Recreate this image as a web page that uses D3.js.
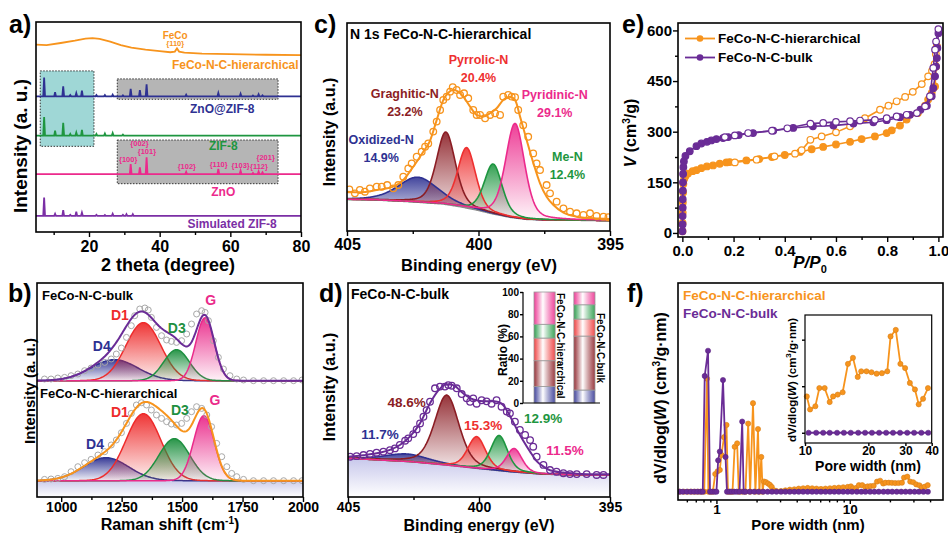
<!DOCTYPE html>
<html>
<head>
<meta charset="utf-8">
<script src="https://cdn.jsdelivr.net/npm/d3@7"></script>
<style>
  body { margin: 0; background: #fff; }
  text { font-family: Arial, "Liberation Sans", Helvetica, sans-serif; font-weight: bold; }
</style>
</head>
<body>
<svg id="fig" width="948" height="533"></svg>
<script>
// ---------- a) XRD ----------
const xrdNames = ['FeCo-N-C-hierarchical', 'ZnO@ZIF-8', 'ZIF-8', 'ZnO', 'Simulated ZIF-8']
const xrdBase = [0, 64.6, 45.9, 27.6, 7.7]
const fecoPattern = [[5,89.2],[8,89.0],[12,90.0],[16,91.1],[19,92.1],[21,92.3],[23,92.0],[26,90.7],[29,89.0],[32,87.8],[36,86.8],[40,86.1],[43,85.6],[44.3,85.9],[44.9,87.4],[45.5,85.9],[47,85.4],[52,84.9],[60,84.7],[70,84.4],[80,84.2]]
const znoZifPeaks = [[7.3,8.9],[10.4,2.0],[12.7,4.8],[14.7,0.6],[16.4,1.5],[18.0,2.7],[22.1,0.6],[24.5,0.6],[26.7,0.8],[29.6,0.5],[31.8,3.6],[34.4,2.9],[36.3,5.7],[47.5,0.8],[56.6,1.6],[62.9,1.2],[66.4,0.4],[68.0,1.0],[69.1,0.5]]
const zifPeaks = [[7.3,8.9],[10.4,2.4],[12.7,6.1],[14.7,0.8],[16.4,1.5],[18.0,2.7],[22.1,0.8],[24.5,1.0],[26.7,1.2],[29.6,0.5]]
const znoPeaks = [[31.8,4.8],[34.4,3.2],[36.3,8.0],[47.5,1.0],[56.6,2.4],[62.9,1.6],[66.4,0.5],[68.0,1.2],[69.1,0.8]]
const simPeaks = [[7.3,8.7],[10.4,1.0],[12.7,2.7],[14.7,0.5],[16.4,2.0],[18.0,1.5],[22.1,0.5],[24.5,0.4],[26.7,1.0],[29.6,0.5],[30.6,0.8],[32.4,0.8]]
const xrdLabelPos = [[61.4,79.4],[57.7,58.7],[58.0,41.1],[58.0,19.3],[60.5,4.0]]
const znoHkl = ['{100}','{002}','{101}','{102}','{110}','{103}','{112}','{201}']
const znoHklPos = [[31.1,34.8],[34.3,42.0],[36.4,38.3],[47.7,31.2],[56.7,32.4],[62.9,31.9],[68.1,31.2],[70.0,35.5]]
const xrdBoxX = [[6.2,21.4],[28,73.5],[28,73.5]]
const xrdBoxU = [[40.8,76.7],[63.2,72.9],[23,43.8]]

// ---------- b) Raman ----------
const ramanNames = ['FeCo-N-C-bulk', 'FeCo-N-C-hierarchical']
const ramanOffset = [1.0, 0]
const bandNames = ['D4', 'D1', 'D3', 'G']
const bandCenter = [[1220,1340,1477,1595],[1185,1340,1468,1590]]
const bandHeight = [[0.21,0.58,0.31,0.63],[0.23,0.67,0.42,0.65]]
const bandFwhm = [[230,170,125,90],[220,170,150,100]]
const bandLabelPos = [[[1168,1.35],[1243,1.66],[1478,1.53],[1618,1.81]],[[1140,0.37],[1243,0.69],[1491,0.71],[1636,0.81]]]
const shiftBulk = [931,958,986,1014,1041,1069,1097,1124,1152,1180,1207,1228,1249,1270,1290,1304,1325,1346,1360,1373,1394,1415,1436,1456,1477,1498,1519,1539,1560,1581,1595,1609,1629,1650,1671,1698,1726,1754,1795,1837,1878,1920,1961,1996]
const ramanBulk = [.017,.017,.027,.033,.05,.067,.1,.127,.157,.183,.217,.267,.327,.433,.55,.65,.717,.727,.707,.633,.533,.45,.407,.393,.383,.4,.467,.567,.667,.7,.683,.6,.4,.233,.117,.05,.017,.007,0,0,0,0,0,.007]
const shiftHier = [931,958,986,1014,1041,1069,1097,1124,1152,1180,1207,1228,1249,1270,1290,1311,1332,1353,1373,1394,1415,1436,1456,1477,1498,1519,1539,1560,1581,1602,1622,1643,1664,1685,1705,1726,1754,1795,1837,1878,1920,1961,1996]
const ramanHier = [.013,.017,.023,.04,.09,.14,.18,.213,.257,.29,.357,.407,.48,.573,.673,.757,.78,.757,.707,.657,.623,.59,.567,.557,.573,.623,.69,.74,.723,.657,.54,.373,.24,.14,.073,.04,.013,0,0,0,0,0,0]

// ---------- c), d) N 1s XPS ----------
const nSpecies = ['Oxidized-N', 'Graghitic-N', 'Pyrrolic-N', 'Me-N', 'Pyridinic-N']
const hierCenter = [402.3, 401.24, 400.45, 399.44, 398.61]
const hierAmp = [12, 34.8, 29, 24, 45.4]
const hierFwhm = [1.8, 0.85, 0.8, 0.8, 0.85]
const hierPct = [14.9, 23.2, 20.4, 12.4, 29.1]
const bulkCenter = [402.76, 401.23, 400.09, 399.23, 398.66]
const bulkAmp = [3.5, 32.7, 14.8, 16.4, 11]
const bulkFwhm = [2.0, 1.1, 0.8, 0.75, 0.7]
const bulkPct = [11.7, 48.6, 15.3, 12.9, 11.5]
const hierBg = [[405,15.2],[403.87,14.9],[402.6,14.1],[401.34,13.0],[400.7,11.7],[400.07,10.1],[399.44,8.2],[398.8,6.6],[398.17,5.6],[397.53,5.3],[395,5.0]]
const hierFit = [[405,18.9],[404.51,18.6],[403.87,19.7],[403.24,21.3],[402.86,24.5],[402.48,30.9],[402.1,38.1],[401.84,43.5],[401.59,53.3],[401.34,62.9],[401.15,66.5],[400.96,67.8],[400.77,67.0],[400.58,64.6],[400.32,59.8],[400.07,55.8],[399.82,55.0],[399.56,56.6],[399.31,59.0],[399.06,63.0],[398.8,64.6],[398.61,63.0],[398.42,55.0],[398.17,43.8],[397.91,32.5],[397.66,22.9],[397.41,16.5],[397.15,12.5],[396.77,8.8],[396.27,6.9],[395.63,6.1],[395.0,5.8]]
const hierDots = [[404.91,20.0],[404.70,18.1],[404.51,19.7],[404.32,18.9],[404.13,20.5],[403.87,21.3],[403.68,21.3],[403.47,22.1],[403.24,20.5],[403.05,22.1],[402.86,26.1],[402.67,30.1],[402.54,32.5],[402.35,35.7],[402.16,38.1],[402.03,40.5],[401.91,42.1],[401.72,47.8],[401.59,52.6],[401.46,58.2],[401.34,63.0],[401.21,64.6],[401.08,67.0],[400.98,69.1],[400.83,67.8],[400.70,65.4],[400.55,66.2],[400.39,63.8],[400.20,58.2],[400.07,55.8],[399.94,55.8],[399.75,54.2],[399.56,55.8],[399.37,56.6],[399.18,55.8],[399.06,64.6],[398.87,65.4],[398.74,64.6],[398.61,64.3],[398.49,58.2],[398.30,50.9],[398.11,45.3],[397.92,37.3],[397.79,32.5],[397.66,29.3],[397.41,22.1],[397.28,18.1],[397.03,14.1],[396.77,10.9],[396.52,9.3],[396.27,8.5],[396.01,7.7],[395.76,8.5],[395.51,7.2],[395.25,6.9],[395.06,6.6]]
const bulkBg = [[405,18.1],[402.6,16.5],[401.3,15.0],[400.1,13.4],[398.8,11.8],[397.6,10.7],[396.3,10.3],[395,10.3]]
const bulkFit = [[405,18.8],[404.41,19.5],[403.91,20.4],[403.4,22.0],[403.02,24.3],[402.63,28.3],[402.25,34.5],[401.87,43.8],[401.55,49.8],[401.3,52.5],[401.11,52.6],[400.92,51.9],[400.73,49.8],[400.47,47.2],[400.22,45.6],[399.96,44.9],[399.71,44.7],[399.45,44.7],[399.26,44.4],[399.07,42.8],[398.82,37.9],[398.56,31.8],[398.31,26.3],[398.05,21.2],[397.8,16.8],[397.54,14.2],[397.29,12.5],[396.78,11.4],[396.27,10.9],[395.51,10.6],[395.0,10.6]]
const bulkDots = [[404.92,18.8],[404.67,19.1],[404.41,19.6],[404.16,20.1],[403.91,20.7],[403.65,21.2],[403.40,21.9],[403.21,22.7],[403.02,24.3],[402.82,26.3],[402.70,27.4],[402.51,29.4],[402.38,31.6],[402.25,34.4],[402.12,37.5],[402.00,40.6],[401.87,44.5],[401.68,50.8],[401.49,51.6],[401.30,51.6],[401.17,52.3],[401.04,52.0],[400.85,50.8],[400.66,48.1],[400.47,46.1],[400.34,44.5],[400.22,46.1],[400.09,43.6],[399.90,45.2],[399.71,44.7],[399.52,43.6],[399.33,45.2],[399.14,42.2],[398.94,39.9],[398.82,39.1],[398.63,35.2],[398.44,31.3],[398.24,29.0],[398.05,26.6],[397.93,23.5],[397.80,18.8],[397.54,15.0],[397.29,12.6],[397.04,11.8],[396.78,11.1],[396.53,10.7],[396.27,10.7],[395.89,10.7],[395.51,10.3],[395.25,10.3]]
const hierLabelPos = [[403.7,43.8],[402.8,65.9],[400.0,82.2],[396.62,35.7],[397.1,65.4]]
const bulkLabelPos = [[403.78,29.4],[402.76,44.1],[399.84,33.6],[397.55,36.9],[396.72,22.0]]
const ratioSamples = ['FeCo-N-C-hierarchical', 'FeCo-N-C-bulk']

// ---------- e) N2 isotherms ----------
const isoNames = ['FeCo-N-C-hierarchical', 'FeCo-N-C-bulk']
const hierAds = [[0.0005,5],[0.001,30],[0.0015,60],[0.002,90],[0.003,120],[0.004,145],[0.007,160],[0.012,168],[0.022,176],[0.04,183],[0.055,186],[0.074,192],[0.096,197],[0.12,200],[0.146,205],[0.172,209],[0.185,210],[0.25,215],[0.3,219],[0.35,225],[0.4,231],[0.46,240],[0.505,248],[0.55,255],[0.6,262],[0.655,270],[0.7,278],[0.752,286],[0.798,296],[0.818,304],[0.85,318],[0.876,336],[0.92,355],[0.948,377],[0.96,395],[0.974,415],[0.987,434],[0.991,493],[0.994,553]]
const hierDes = [[0.994,553],[0.99,530],[0.985,500],[0.975,480],[0.96,464],[0.935,441],[0.9,418],[0.87,403],[0.837,390],[0.805,377],[0.772,365],[0.713,340],[0.655,316],[0.6,298],[0.544,286],[0.5,276],[0.466,245],[0.44,235],[0.36,227],[0.29,217],[0.205,209]]
const bulkAds = [[0.0005,5],[0.001,25],[0.001,50],[0.0015,75],[0.0015,100],[0.002,125],[0.0025,150],[0.003,175],[0.004,195],[0.006,212],[0.012,228],[0.029,242],[0.055,257],[0.074,265],[0.096,270],[0.113,274],[0.133,278],[0.159,281],[0.179,284],[0.22,290],[0.276,296],[0.355,303],[0.433,311],[0.51,316],[0.59,318],[0.668,324],[0.746,328],[0.798,334],[0.85,343],[0.889,350],[0.93,365],[0.955,377],[0.974,405],[0.98,429],[0.987,464],[0.991,493],[0.994,518],[0.996,548],[1.0,592]]
const bulkDes = [[1.0,604],[0.991,567],[0.987,543],[0.98,489],[0.967,405],[0.948,375],[0.916,355],[0.876,350],[0.837,345],[0.798,340],[0.752,335],[0.694,333],[0.655,331],[0.6,329],[0.55,326],[0.5,324],[0.41,310],[0.35,303],[0.257,296],[0.205,289],[0.166,284]]

// ---------- f) pore size distribution ----------
const hierPSD = [[0.53,0],[0.57,0],[0.61,0],[0.65,0],[0.69,0],[0.73,0],[0.77,0],[0.81,0],[0.85,16.6],[0.87,0],[0.9,0],[0.94,0],[0.98,2.6],[1.02,3.0],[1.06,3.2],[1.09,5.4],[1.14,8.0],[1.19,9.8],[1.22,0],[1.27,0],[1.32,0],[1.37,6.6],[1.43,7.1],[1.47,0],[1.55,0],[1.65,0],[1.73,10.0],[1.79,0],[1.88,13.0],[1.96,0],[2.05,9.2],[2.1,0],[2.17,5.1],[2.22,0],[2.27,1.5],[2.35,1.4],[2.44,1.2],[2.52,1.0],[2.6,0.7],[2.7,0.2],[2.82,0.1],[3.05,0.1],[3.29,0.2],[3.55,0.3],[3.84,0.35],[4.14,0.45],[4.47,0.5],[4.83,0.55],[5.22,0.5],[5.63,0.45],[6.08,0.4],[6.57,0.45],[7.1,0.5],[7.66,0.55],[8.27,0.6],[8.93,0.65],[9.65,0.7],
  [10.2,0.78],[10.57,0.50],[11.2,0.57],[11.7,0.96],[12.4,0.96],[13.1,0.66],[13.6,0.78],[14.3,0.82],[15.1,0.87],[16.0,1.48],[16.9,1.61],[17.8,1.20],[18.5,1.32],[19.6,1.32],[20.7,1.30],[21.9,1.27],[23.2,1.28],[24.6,1.32],[25.5,2.07],[27.0,2.21],[28.4,1.48],[29.9,1.39],[31.5,1.07],[33.3,0.93],[34.7,0.61],[36.4,0.73],[38.4,0.96]]
const bulkPSD = [[0.53,0],[0.56,0],[0.6,0],[0.64,0],[0.68,0],[0.72,0],[0.76,0],[0.79,0],[0.817,17.0],[0.865,20.7],[0.895,0],[0.93,0],[0.97,0],[1.0,0],[1.03,4.6],[1.06,5.9],[1.12,16.4],[1.17,5.1],[1.2,0],[1.25,0],[1.3,0],[1.36,0],[1.42,0],[1.49,0],[1.56,10.3],[1.6,0],
  [1.65,0],[1.78,0],[1.92,0],[2.07,0],[2.24,0],[2.42,0],[2.61,0],[2.82,0],[3.05,0],[3.29,0],[3.55,0],[3.84,0],[4.14,0],[4.47,0],[4.83,0],[5.22,0],[5.63,0],[6.08,0],[6.57,0],[7.1,0],[7.66,0],[8.27,0],[8.93,0],[9.65,0],[10.4,0],[11.3,0],[12.2,0],[13.1,0],[14.2,0],[15.3,0],[16.5,0],[17.9,0],[19.3,0],[20.8,0],[22.5,0],[24.3,0],[26.2,0],[28.3,0],[30.6,0],[33.0,0],[35.7,0],[38.5,0]]

// colours
const ORANGE = '#f7941d', PURPLE = '#6a2c96'
const xrdColors = ['#f7941d', '#2e3192', '#1e9640', '#ec2a8c', '#7b2fa5']
const bandColors = ['#2e3192', '#ee2b2b', '#1e9040', '#ea2a8a']
const nColors = ['#2e3192', '#8b1d24', '#ee3030', '#1e9640', '#ec2a8c']

const svg = d3.select('#fig')
const defs = svg.append('defs')

function gradV(id, col, top, bot) {
  const g = defs.append('linearGradient').attr('id', id).attr('x1', 0).attr('y1', 0).attr('x2', 0).attr('y2', 1)
  g.append('stop').attr('offset', '0%').attr('stop-color', col).attr('stop-opacity', top)
  g.append('stop').attr('offset', '100%').attr('stop-color', col).attr('stop-opacity', bot)
}
function gradH(id, col) {
  const g = defs.append('linearGradient').attr('id', id).attr('x1', 0).attr('y1', 0).attr('x2', 1).attr('y2', 0)
  g.append('stop').attr('offset', '0%').attr('stop-color', col).attr('stop-opacity', 0.9)
  g.append('stop').attr('offset', '42%').attr('stop-color', '#fff').attr('stop-opacity', 1)
  g.append('stop').attr('offset', '100%').attr('stop-color', col).attr('stop-opacity', 0.85)
}
function clip(id, p) {
  defs.append('clipPath').attr('id', id).append('rect')
    .attr('x', p.x0).attr('y', p.y0).attr('width', p.x1 - p.x0).attr('height', p.y1 - p.y0)
}
function frame(p, sw) {
  svg.append('rect').attr('x', p.x0).attr('y', p.y0).attr('width', p.x1 - p.x0).attr('height', p.y1 - p.y0)
    .attr('fill', 'none').attr('stroke', '#000').attr('stroke-width', sw || 1.6)
}
function label(x, y, s, size, color, anchor) {
  return svg.append('text').attr('x', x).attr('y', y).attr('dy', '0.35em')
    .attr('font-size', size).attr('fill', color || '#000').attr('text-anchor', anchor || 'middle').text(s)
}
function vLabel(x, y, size) {
  return svg.append('text').attr('transform', `translate(${x},${y}) rotate(-90)`).attr('dy', '0.35em')
    .attr('font-size', size).attr('text-anchor', 'middle')
}
function xAxis(scale, y, major, minor, fmt, size, pad, len) {
  const g = svg.append('g').attr('transform', `translate(0,${y})`)
  if (minor.length) g.append('g').call(d3.axisBottom(scale).tickValues(minor).tickSize(len * 0.6).tickFormat(''))
  g.append('g').call(d3.axisBottom(scale).tickValues(major).tickSize(len).tickPadding(pad).tickFormat(fmt))
  g.selectAll('.domain').remove()
  g.selectAll('line').attr('stroke', '#000').attr('stroke-width', 1.4)
  g.selectAll('text').attr('font-size', size).attr('fill', '#000')
  return g
}
function yAxis(scale, x, major, minor, fmt, size, pad, len) {
  const g = svg.append('g').attr('transform', `translate(${x},0)`)
  if (minor.length) g.append('g').call(d3.axisLeft(scale).tickValues(minor).tickSize(len * 0.6).tickFormat(''))
  g.append('g').call(d3.axisLeft(scale).tickValues(major).tickSize(len).tickPadding(pad).tickFormat(fmt))
  g.selectAll('.domain').remove()
  g.selectAll('line').attr('stroke', '#000').attr('stroke-width', 1.4)
  g.selectAll('text').attr('font-size', size).attr('fill', '#000')
  return g
}
function pv(x, c, a, w, eta) {
  const t = (x - c) / w
  return a * (eta / (1 + 4 * t * t) + (1 - eta) * Math.exp(-4 * Math.LN2 * t * t))
}

// panel letters
;[['a)', 9, 24], ['b)', 8, 293], ['c)', 314, 24], ['d)', 319, 293], ['e)', 622, 24], ['f)', 627, 293]]
  .forEach(([s, x, y]) => label(x, y, s, 25, '#000', 'start'))

// =============== panel a ===============
const pa = {x0: 36, x1: 301, y0: 22, y1: 232}
const xA = d3.scaleLinear().domain([5, 80]).range([pa.x0, pa.x1])
const yA = d3.scaleLinear().domain([0, 100]).range([pa.y1, pa.y0])
clip('clipA', pa)
const gA = svg.append('g').attr('clip-path', 'url(#clipA)')
const boxFill = ['#9fd7d6', '#b5b5b5', '#b5b5b5']
xrdBoxX.forEach((bx, i) => {
  gA.append('rect').attr('x', xA(bx[0])).attr('y', yA(xrdBoxU[i][1]))
    .attr('width', xA(bx[1]) - xA(bx[0])).attr('height', yA(xrdBoxU[i][0]) - yA(xrdBoxU[i][1]))
    .attr('fill', boxFill[i]).attr('stroke', '#333').attr('stroke-width', 1).attr('stroke-dasharray', '1.5,1.5')
})
function xrdPoints(base, peaks) {
  const pts = [[5, base], [80, base]]
  peaks.forEach(([c, a]) => pts.push([c - 0.25, base], [c, base + a], [c + 0.25, base]))
  return pts.sort((p, q) => p[0] - q[0])
}
const xrdSeries = [fecoPattern,
  xrdPoints(xrdBase[1], znoZifPeaks), xrdPoints(xrdBase[2], zifPeaks),
  xrdPoints(xrdBase[3], znoPeaks), xrdPoints(xrdBase[4], simPeaks)]
const lineA = d3.line().x(d => xA(d[0])).y(d => yA(d[1]))
xrdSeries.forEach((s, i) => {
  gA.append('path').attr('d', lineA(s)).attr('fill', 'none').attr('stroke', xrdColors[i]).attr('stroke-width', 1.8)
})
xrdNames.forEach((n, i) => label(xA(xrdLabelPos[i][0]), yA(xrdLabelPos[i][1]), n, 12, xrdColors[i]))
label(xA(44.4), yA(93.8), 'FeCo', 10, ORANGE)
label(xA(44.4), yA(89.8), '{110}', 7.5, ORANGE)
znoHkl.forEach((h, i) => label(xA(znoHklPos[i][0]), yA(znoHklPos[i][1]), h, 7.5, xrdColors[3]))
frame(pa)
xAxis(xA, pa.y1, [20, 40, 60, 80], [10, 30, 50, 70], d3.format('d'), 16, 4, 5)
vLabel(20, 146, 19).text('Intensity (a. u.)')
label(168, 265, '2 theta (degree)', 18)

// =============== panel b ===============
const pb = {x0: 37, x1: 303, y0: 283, y1: 497}
const xB = d3.scaleLinear().domain([900, 2000]).range([pb.x0, pb.x1])
const yB = d3.scaleLinear().domain([-0.163, 1.977]).range([pb.y1, pb.y0])
clip('clipB', pb)
const gB = svg.append('g').attr('clip-path', 'url(#clipB)')
gradV('bandBase', '#8c8cd0', 0.45, 0.0)
gB.append('rect').attr('x', pb.x0).attr('y', yB(0)).attr('width', pb.x1 - pb.x0).attr('height', pb.y1 - yB(0)).attr('fill', 'url(#bandBase)')
bandColors.forEach((c, k) => gradV('gB' + k, c, 0.95, 0.06))
const shifts = d3.range(900, 2001, 4)
const ramanDots = [[shiftBulk, ramanBulk], [shiftHier, ramanHier]]
const envColors = [PURPLE, ORANGE]
ramanNames.forEach((name, s) => {
  const off = ramanOffset[s]
  bandNames.forEach((b, k) => {
    const f = x => pv(x, bandCenter[s][k], bandHeight[s][k], bandFwhm[s][k], 0)
    gB.append('path').datum(shifts)
      .attr('d', d3.area().x(x => xB(x)).y0(yB(off)).y1(x => yB(off + f(x))))
      .attr('fill', `url(#gB${k})`)
    gB.append('path').datum(shifts)
      .attr('d', d3.line().x(x => xB(x)).y(x => yB(off + f(x))))
      .attr('fill', 'none').attr('stroke', bandColors[k]).attr('stroke-width', 1.5)
    label(xB(bandLabelPos[s][k][0]), yB(bandLabelPos[s][k][1]), b, 14, bandColors[k])
  })
  const [sx, sy] = ramanDots[s]
  gB.selectAll(null).data(sx).join('circle')
    .attr('cx', d => xB(d)).attr('cy', (d, i) => yB(off + sy[i])).attr('r', 3)
    .attr('fill', 'none').attr('stroke', '#a8a8a8').attr('stroke-width', 1)
  const env = x => bandNames.reduce((acc, b, k) => acc + pv(x, bandCenter[s][k], bandHeight[s][k], bandFwhm[s][k], 0), 0)
  gB.append('path').datum(shifts)
    .attr('d', d3.line().x(x => xB(x)).y(x => yB(off + env(x))))
    .attr('fill', 'none').attr('stroke', envColors[s]).attr('stroke-width', 2)
})
label(pb.x0 + 5, pb.y0 + 12, ramanNames[0], 13, '#000', 'start')
label(pb.x0 + 3, pb.y0 + 110, ramanNames[1], 13, '#000', 'start')
frame(pb)
xAxis(xB, pb.y1, [1000, 1250, 1500, 1750, 2000], [1125, 1375, 1625, 1875], d3.format('d'), 14, 0, 5)
vLabel(30, 391, 15).text('Intensity (a. u.)')
const rl = svg.append('text').attr('x', 170).attr('y', 530).attr('font-size', 16).attr('text-anchor', 'middle').text('Raman shift (cm')
rl.append('tspan').attr('dy', -6).attr('font-size', 10).text('-1')
rl.append('tspan').attr('dy', 6).text(')')

// =============== panels c & d (XPS) ===============
function xpsPanel(p, id, centers, amps, fwhms, bg, fit, dots, fitColor, title, tickSize, tickPad) {
  const xS = d3.scaleLinear().domain([405, 395]).range([p.x0, p.x1])
  const yS = d3.scaleLinear().domain([0, 100]).range([p.y1, p.y0])
  clip(id, p)
  const g = svg.append('g').attr('clip-path', `url(#${id})`)
  const bgF = d3.scaleLinear().domain(bg.map(d => d[0])).range(bg.map(d => d[1]))
  const evs = d3.range(395, 405.001, 0.025)
  if (id === 'clipD') {
    gradV('gDbase', '#9090d8', 0.5, 0.0)
    g.append('path').datum(evs)
      .attr('d', d3.area().x(e => xS(e)).y0(p.y1).y1(e => yS(bgF(e))))
      .attr('fill', 'url(#gDbase)')
  }
  centers.forEach((c, k) => {
    gradV(id + 'g' + k, nColors[k], 0.9, 0.04)
    const f = e => pv(e, c, amps[k], fwhms[k], 0.35)
    g.append('path').datum(evs)
      .attr('d', d3.area().x(e => xS(e)).y0(e => yS(bgF(e))).y1(e => yS(bgF(e) + f(e))))
      .attr('fill', `url(#${id}g${k})`)
  })
  g.append('path').datum(evs).attr('d', d3.line().x(e => xS(e)).y(e => yS(bgF(e))))
    .attr('fill', 'none').attr('stroke', '#8a8a8a').attr('stroke-width', 1.6)
  centers.forEach((c, k) => {
    const f = e => pv(e, c, amps[k], fwhms[k], 0.35)
    g.append('path').datum(evs)
      .attr('d', d3.line().x(e => xS(e)).y(e => yS(bgF(e) + f(e))))
      .attr('fill', 'none').attr('stroke', nColors[k]).attr('stroke-width', 1.6)
  })
  g.append('path').datum(fit).attr('d', d3.line().curve(d3.curveMonotoneX).x(d => xS(d[0])).y(d => yS(d[1])))
    .attr('fill', 'none').attr('stroke', fitColor).attr('stroke-width', 2)
  g.selectAll(null).data(dots).join('circle')
    .attr('cx', d => xS(d[0])).attr('cy', d => yS(d[1])).attr('r', 3.3)
    .attr('fill', 'none').attr('stroke', fitColor).attr('stroke-width', 1.3)
  frame(p)
  xAxis(xS, p.y1, [405, 400, 395], [402.5, 397.5], d3.format('d'), tickSize, tickPad, 5)
  label(p.x0 + 3, p.y0 + 11, title, 14, '#000', 'start')
  return {xS, yS}
}
const pc = {x0: 347, x1: 610, y0: 23, y1: 231}
const sc = xpsPanel(pc, 'clipC', hierCenter, hierAmp, hierFwhm, hierBg, hierFit, hierDots, ORANGE, 'N 1s FeCo-N-C-hierarchical', 16, 3)
nSpecies.forEach((n, k) => {
  const [e, v] = hierLabelPos[k]
  label(sc.xS(e), sc.yS(v), n, 12.5, nColors[k])
  label(sc.xS(e), sc.yS(v) + 18, hierPct[k].toFixed(1) + '%', 12.5, nColors[k])
})
vLabel(329, 132, 16).text('Intensity (a.u.)')
label(479, 265, 'Binding energy (eV)', 16.5)

const pd = {x0: 348, x1: 610, y0: 283, y1: 497}
const sd = xpsPanel(pd, 'clipD', bulkCenter, bulkAmp, bulkFwhm, bulkBg, bulkFit, bulkDots, PURPLE, 'FeCo-N-C-bulk', 14, 0)
nSpecies.forEach((n, k) => {
  const [e, v] = bulkLabelPos[k]
  label(sd.xS(e), sd.yS(v), bulkPct[k].toFixed(1) + '%', 13.5, nColors[k])
})
vLabel(329, 387, 16).text('Intensity (a.u.)')
label(479, 525, 'Binding energy (eV)', 16)

// inset: ratio bars
const yR = d3.scaleLinear().domain([0, 100]).range([403, 292])
const xR = d3.scaleBand().domain(ratioSamples).range([534, 595]).paddingInner(0.47)
nColors.forEach((c, k) => gradH('hR' + k, c))
const ratioRows = ratioSamples.map((s, i) => {
  const row = {sample: s}
  const pct = i === 0 ? hierPct : bulkPct
  nSpecies.forEach((n, k) => row[n] = pct[k])
  return row
})
const stacked = d3.stack().keys(nSpecies)(ratioRows)
const gR = svg.append('g')
stacked.forEach((layer, k) => {
  gR.selectAll(null).data(layer).join('rect')
    .attr('x', d => xR(d.data.sample)).attr('width', xR.bandwidth())
    .attr('y', d => yR(d[1])).attr('height', d => yR(d[0]) - yR(d[1]))
    .attr('fill', `url(#hR${k})`).attr('stroke', '#9a9a9a').attr('stroke-width', 0.8)
})
svg.append('line').attr('x1', 523).attr('x2', 523).attr('y1', yR(100)).attr('y2', yR(0)).attr('stroke', '#000').attr('stroke-width', 1.2)
svg.append('line').attr('x1', 523).attr('x2', 600).attr('y1', yR(0)).attr('y2', yR(0)).attr('stroke', '#000').attr('stroke-width', 1.2)
yAxis(yR, 523, d3.range(0, 101, 20), [], d3.format('d'), 10, 1, 3)
vLabel(503, 350, 12).text('Ratio (%)')
ratioSamples.forEach((s, i) => {
  svg.append('text').attr('transform', `translate(${xR(s) + xR.bandwidth() + 5},${i === 0 ? 293 : 313}) rotate(90)`)
    .attr('dy', '0.35em').attr('font-size', 10).text(s)
})

// =============== panel e ===============
const pe = {x0: 678, x1: 943, y0: 23, y1: 237}
const xE = d3.scaleLinear().domain([-0.017, 1.018]).range([pe.x0, pe.x1])
const yE = d3.scaleLinear().domain([-12, 622]).range([pe.y1, pe.y0])
clip('clipE', pe)
const gE = svg.append('g').attr('clip-path', 'url(#clipE)')
const lineE = d3.line().x(d => xE(d[0])).y(d => yE(d[1]))
function isoBranch(data, col, open) {
  gE.append('path').attr('d', lineE(data)).attr('fill', 'none').attr('stroke', col).attr('stroke-width', 1.6)
  gE.selectAll(null).data(data).join('circle')
    .attr('cx', d => xE(d[0])).attr('cy', d => yE(d[1])).attr('r', 3.3)
    .attr('fill', open ? '#fff' : col).attr('stroke', col).attr('stroke-width', 1.2)
}
isoBranch(hierAds, ORANGE, false)
isoBranch(hierDes, ORANGE, true)
isoBranch(bulkAds, PURPLE, false)
isoBranch(bulkDes, PURPLE, true)
frame(pe)
xAxis(xE, pe.y1, [0, 0.2, 0.4, 0.6, 0.8, 1.0], [0.1, 0.3, 0.5, 0.7, 0.9], d3.format('.1f'), 15, 3, 5)
yAxis(yE, pe.x0, [0, 150, 300, 450, 600], [75, 225, 375, 525], d3.format('d'), 15, 1, 5)
;[ORANGE, PURPLE].forEach((c, i) => {
  const y = 38.5 + i * 19
  svg.append('line').attr('x1', 685).attr('x2', 715).attr('y1', y).attr('y2', y).attr('stroke', c).attr('stroke-width', 1.8)
  svg.append('circle').attr('cx', 700).attr('cy', y).attr('r', 3.3).attr('fill', c)
  label(718, y, isoNames[i], 13.5, '#000', 'start')
})
const vl = vLabel(630, 133, 16)
vl.append('tspan').attr('font-style', 'italic').text('V')
vl.append('tspan').text(' (cm')
vl.append('tspan').attr('dy', -6).attr('font-size', 10).text('3')
vl.append('tspan').attr('dy', 6).text('/g)')
const pl = svg.append('text').attr('x', 810).attr('y', 268).attr('font-size', 17).attr('text-anchor', 'middle')
pl.append('tspan').attr('font-style', 'italic').text('P/P')
pl.append('tspan').attr('dy', 5).attr('font-size', 11).text('0')

// =============== panel f ===============
const pf = {x0: 678, x1: 943, y0: 283, y1: 500}
const xF = d3.scaleLog().domain([0.515, 50]).range([pf.x0, pf.x1])
const yF = d3.scaleLinear().domain([-1.22, 30.65]).range([pf.y1, pf.y0])
clip('clipF', pf)
const gF = svg.append('g').attr('clip-path', 'url(#clipF)')
function psd(g, xs, ys, data, col, r) {
  g.append('path').attr('d', d3.line().x(d => xs(d[0])).y(d => ys(d[1]))(data))
    .attr('fill', 'none').attr('stroke', col).attr('stroke-width', 1.8)
  g.selectAll(null).data(data).join('circle')
    .attr('cx', d => xs(d[0])).attr('cy', d => ys(d[1])).attr('r', r)
    .attr('fill', col).attr('stroke', d3.color(col).darker(0.4)).attr('stroke-width', 0.6)
}
psd(gF, xF, yF, hierPSD, ORANGE, 2.6)
psd(gF, xF, yF, bulkPSD, PURPLE, 2.6)
frame(pf)
xAxis(xF, pf.y1, [1, 10], [0.6, 0.7, 0.8, 0.9, 2, 3, 4, 5, 6, 7, 8, 9, 20, 30, 40], d3.format('d'), 13.5, 0, 4)
label(683, 295, isoNames[0], 13.5, ORANGE, 'start')
label(683, 313, isoNames[1], 13.5, PURPLE, 'start')
const fl = vLabel(660, 398, 16)
fl.append('tspan').text('dV/dlog(')
fl.append('tspan').attr('font-style', 'italic').text('W')
fl.append('tspan').text(') (cm')
fl.append('tspan').attr('dy', -6).attr('font-size', 10).text('3')
fl.append('tspan').attr('dy', 6).text('/g·nm)')
label(808, 524.5, 'Pore width (nm)', 15)

// inset
const pfi = {x0: 805, x1: 931.7, y0: 315, y1: 443}
svg.append('rect').attr('x', pfi.x0).attr('y', pfi.y0).attr('width', pfi.x1 - pfi.x0).attr('height', pfi.y1 - pfi.y0).attr('fill', '#fff')
const xFi = d3.scaleLog().domain([10, 40]).range([pfi.x0, pfi.x1])
const yFi = d3.scaleLinear().domain([-0.22, 2.53]).range([pfi.y1, pfi.y0])
clip('clipFi', {x0: pfi.x0 - 4, x1: pfi.x1 + 4, y0: pfi.y0, y1: pfi.y1})
const gFi = svg.append('g').attr('clip-path', 'url(#clipFi)')
psd(gFi, xFi, yFi, hierPSD.filter(d => d[0] >= 10), ORANGE, 2.6)
psd(gFi, xFi, yFi, bulkPSD.filter(d => d[0] >= 10), PURPLE, 2.6)
frame(pfi, 1.2)
xAxis(xFi, pfi.y1, [10, 20, 30, 40], [], d3.format('d'), 12, 0, 3)
yAxis(yFi, pfi.x0, [0, 1, 2], [], () => '', 10, 1, 3)
label(868, 466, 'Pore width (nm)', 14)
const il = vLabel(792, 380, 11.5)
il.append('tspan').text('dV/dlog(')
il.append('tspan').attr('font-style', 'italic').text('W')
il.append('tspan').text(') (cm')
il.append('tspan').attr('dy', -5).attr('font-size', 8).text('3')
il.append('tspan').attr('dy', 5).text('/g·nm)')
</script>
</body>
</html>
